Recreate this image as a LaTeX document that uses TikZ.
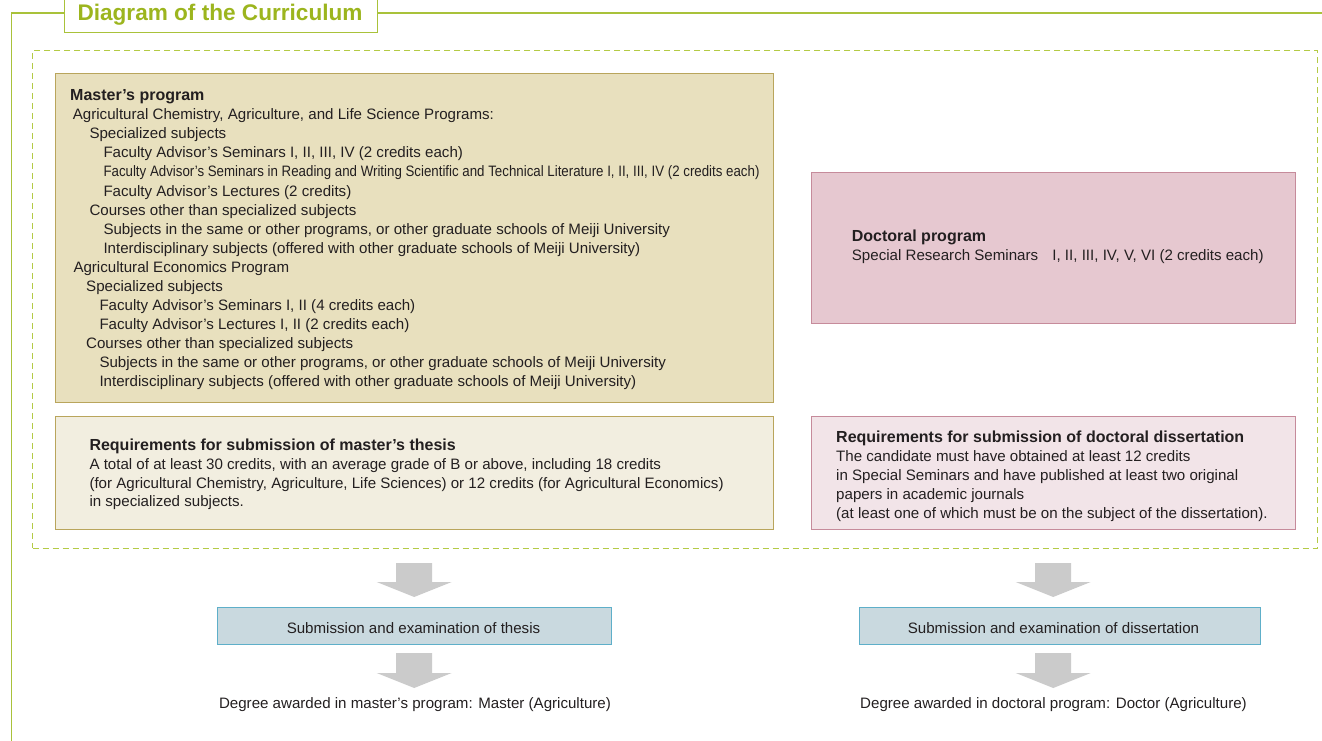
\documentclass[tikz,border=0pt]{standalone}
\usepackage{fontspec}
\setmainfont{Liberation Sans}
\definecolor{ink}{HTML}{231F20}
\definecolor{titlegreen}{HTML}{9CB51E}
\definecolor{framegreen}{HTML}{A9C23A}
\definecolor{dashgreen}{HTML}{B4CB45}
\definecolor{mfill}{HTML}{E8E0BE}
\definecolor{mdraw}{HTML}{B9A55C}
\definecolor{mreqfill}{HTML}{F2EEE0}
\definecolor{dfill}{HTML}{E6C8D0}
\definecolor{ddraw}{HTML}{C68B9B}
\definecolor{dreqfill}{HTML}{F2E4E8}
\definecolor{sfill}{HTML}{C9D9DF}
\definecolor{sdraw}{HTML}{5EAFC9}
\definecolor{arrowgray}{HTML}{CBCBCB}
\begin{document}
\begin{tikzpicture}[x=1pt,y=-1pt,
  txt/.style={anchor=base west, inner sep=0pt, text=ink, font=\fontsize{15.1}{18}\selectfont},
  hd/.style={anchor=base west, inner sep=0pt, text=ink, font=\fontsize{16}{19}\selectfont\bfseries},
  ctr/.style={anchor=base, inner sep=0pt, text=ink, font=\fontsize{15.1}{17}\selectfont},
  mbox/.style={draw=mdraw, line width=0.9pt, anchor=north west, inner sep=0pt},
  dbox/.style={draw=ddraw, line width=0.9pt, anchor=north west, inner sep=0pt},
  sbox/.style={draw=sdraw, fill=sfill, line width=0.9pt, anchor=north west, inner sep=0pt},
  blockarrow/.style={fill=arrowgray, draw=none}]
\useasboundingbox (0,0) rectangle (1322,740);
% outer frame
\coordinate (fTL) at (11.5,13);
\coordinate (fBL) at (11.5,742);
\coordinate (fTR) at (1324,13);
\node[inner sep=0pt, anchor=north west, minimum width=312.4pt, minimum height=35pt] (tbox) at (64.3,-2.7) {};
\draw[framegreen, line width=1.2pt] (fBL) -- (fTL) -- (tbox.west |- fTL);
\draw[framegreen, line width=1.2pt] (tbox.east |- fTL) -- (fTR);
\draw[framegreen, line width=1.2pt] (tbox.north west) -- (tbox.south west) -- (tbox.south east) -- (tbox.north east);
\node[anchor=base west, inner sep=0pt, text=titlegreen, font=\fontsize{22.6}{25}\selectfont\bfseries] (title) at (77.3,20.7) {Diagram of the Curriculum};
% dashed region
\node[draw=dashgreen, line width=1pt, dash pattern=on 6pt off 4pt, anchor=north west, inner sep=0pt, minimum width=1285pt, minimum height=497.5pt] (region) at (32,50) {};
% master box
\node[mbox, fill=mfill, minimum width=718.3pt, minimum height=329pt] (master) at (54.7,73) {};
\def\bl#1{100.7+19.07*#1}
\node[hd]  (m0)  at (70,{\bl{0}}) {Master’s program};
\node[txt] (m1)  at (72.7,{\bl{1}}) {Agricultural Chemistry, Agriculture, and Life Science Programs:};
\node[txt] (m2)  at (89.3,{\bl{2}}) {Specialized subjects};
\node[txt] (m3)  at (103.3,{\bl{3}}) {Faculty Advisor’s Seminars I, II, III, IV (2 credits each)};
\node[txt] (m4)  at (103.3,{\bl{4}}) {\resizebox{656pt}{\height}{Faculty Advisor’s Seminars in Reading and Writing Scientific and Technical Literature I, II, III, IV (2 credits each)}};
\node[txt] (m5)  at (103.3,{\bl{5}}) {Faculty Advisor’s Lectures (2 credits)};
\node[txt] (m6)  at (89.3,{\bl{6}}) {Courses other than specialized subjects};
\node[txt] (m7)  at (103.3,{\bl{7}}) {Subjects in the same or other programs, or other graduate schools of Meiji University};
\node[txt] (m8)  at (103.3,{\bl{8}}) {Interdisciplinary subjects (offered with other graduate schools of Meiji University)};
\node[txt] (m9)  at (73.3,{\bl{9}}) {Agricultural Economics Program};
\node[txt] (m10) at (86,{\bl{10}}) {Specialized subjects};
\node[txt] (m11) at (99.3,{\bl{11}}) {Faculty Advisor’s Seminars I, II (4 credits each)};
\node[txt] (m12) at (99.3,{\bl{12}}) {Faculty Advisor’s Lectures I, II (2 credits each)};
\node[txt] (m13) at (86,{\bl{13}}) {Courses other than specialized subjects};
\node[txt] (m14) at (99.3,{\bl{14}}) {Subjects in the same or other programs, or other graduate schools of Meiji University};
\node[txt] (m15) at (99.3,{\bl{15}}) {Interdisciplinary subjects (offered with other graduate schools of Meiji University)};
% master requirements
\node[mbox, fill=mreqfill, minimum width=718.3pt, minimum height=113pt] (mreq) at (54.7,416) {};
\node[hd]  (r0) at (89.3,450.7) {Requirements for submission of master’s thesis};
\node[txt] (r1) at (89.3,469.3) {A total of at least 30 credits, with an average grade of B or above, including 18 credits};
\node[txt] (r2) at (89.3,488) {(for Agricultural Chemistry, Agriculture, Life Sciences) or 12 credits (for Agricultural Economics)};
\node[txt] (r3) at (89.3,506.7) {in specialized subjects.};
% doctoral box
\node[dbox, fill=dfill, minimum width=484pt, minimum height=151.5pt] (doc) at (811,171.7) {};
\node[hd]  (d0) at (851.7,241) {Doctoral program};
\node[txt] (d1) at (851.7,260) {Special Research Seminars\hspace{10pt} I, II, III, IV, V, VI (2 credits each)};
% doctoral requirements
\node[dbox, fill=dreqfill, minimum width=484pt, minimum height=113pt] (dreq) at (811,416) {};
\node[hd]  (q0) at (836,442.7) {Requirements for submission of doctoral dissertation};
\node[txt] (q1) at (836,461.7) {The candidate must have obtained at least 12 credits};
\node[txt] (q2) at (836,480.7) {in Special Seminars and have published at least two original};
\node[txt] (q3) at (836,499.7) {papers in academic journals};
\node[txt] (q4) at (836,518.5) {(at least one of which must be on the subject of the dissertation).};
% submission boxes
\node[sbox, minimum width=394pt, minimum height=37pt] (sm) at (217.3,607) {};
\node[ctr] (smt) at (413.5,633.3) {Submission and examination of thesis};
\node[sbox, minimum width=401pt, minimum height=37pt] (sd) at (859.3,607) {};
\node[ctr] (sdt) at (1053.5,633.3) {Submission and examination of dissertation};
% degrees
\node[ctr] (gm) at (415,708.3) {Degree awarded in master’s program: Master (Agriculture)};
\node[ctr] (gd) at (1053.5,708.3) {Degree awarded in doctoral program: Doctor (Agriculture)};
% block arrows
\foreach \cx in {414.2,1053.2}{
  \foreach \ty/\my/\by in {563/582/597, 653/673/688}{
    \fill[blockarrow] (\cx-18,\ty) -- (\cx+18,\ty) -- (\cx+18,\my) -- (\cx+37.5,\my) -- (\cx,\by) -- (\cx-37.5,\my) -- (\cx-18,\my) -- cycle;
  }
}
\end{tikzpicture}
\end{document}
